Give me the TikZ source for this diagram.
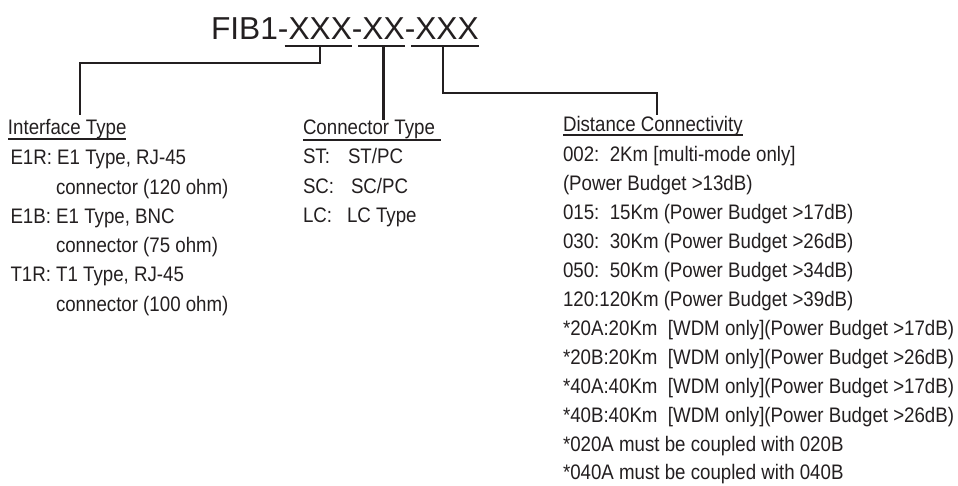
\documentclass[tikz,border=0pt]{standalone}
\usepackage{fontspec}
\setmainfont{Liberation Sans}[FakeStretch=0.89]
\newfontfamily\titlefont{Liberation Sans}
\usetikzlibrary{calc}
\definecolor{ink}{RGB}{35,31,32}
\begin{document}
\begin{tikzpicture}[x=1pt,y=-1pt,
  txt/.style={anchor=base west,inner sep=0pt,outer sep=0pt,font=\fontsize{21}{25}\selectfont,text=ink},
  ttl/.style={anchor=base west,inner sep=0pt,outer sep=0pt,font=\titlefont\fontsize{31.7}{36}\selectfont,text=ink},
  wire/.style={draw=ink,line width=2.4pt},
  uline/.style={draw=ink,line width=2pt}]
\useasboundingbox[fill=white] (0,0) rectangle (958,486);
% title
\node[ttl] (t0) at (211,40) {FIB1-};
\node[ttl] (t1) at (t0.base east) {XXX};
\node[ttl] (t2) at (t1.base east) {-};
\node[ttl] (t3) at (t2.base east) {XX};
\node[ttl] (t4) at (t3.base east) {-};
\node[ttl] (t5) at (t4.base east) {XXX};
\foreach \n in {t1,t3,t5}
  \draw[wire] ([shift={(-4pt,-6pt)}]\n.base west) -- ([shift={(0pt,-6pt)}]\n.base east);
% headings
\node[txt] (ih) at (8,135) {Interface Type};
\node[txt] (ch) at (303,135) {Connector Type};
\node[txt] (dh) at (563,132) {Distance Connectivity};
\draw[uline] ([yshift=-4pt]ih.base west) -- ([yshift=-4pt]ih.base east);
\draw[uline] ([yshift=-5pt]ch.base west) -- ([shift={(6pt,-5pt)}]ch.base east);
\draw[uline] ([yshift=-3pt]dh.base west) -- ([yshift=-3pt]dh.base east);
% connectors
\coordinate (k1) at ($(ih.north west)+(72pt,5pt)$);
\coordinate (k3) at ($(dh.north west)+(94pt,2pt)$);
\draw[wire] ([yshift=-6pt]t1.base) -- ++(0,17) -| (k1);
\draw[wire] ([yshift=-6pt]t3.base) -- (ch.north -| t3.base);
\draw[wire] ([shift={(-4pt,-6pt)}]t5.base) -- ++(0,47) -| (k3);
% interface type
\node[txt] (i1) at (10.5,165) {E1R: E1 Type, RJ-45};
\node[txt] (i2) at (56,194.2) {connector (120 ohm)};
\node[txt] (i3) at (10.5,223.4) {E1B: E1 Type, BNC};
\node[txt] (i4) at (56,252.6) {connector (75 ohm)};
\node[txt] (i5) at (10.5,281.8) {T1R: T1 Type, RJ-45};
\node[txt] (i6) at (56,311) {connector (100 ohm)};
% connector type
\node[txt] (c1k) at (303,164) {ST:};
\node[txt] (c1v) at (348,164) {ST/PC};
\node[txt] (c2k) at (303,193.5) {SC:};
\node[txt] (c2v) at (351,193.5) {SC/PC};
\node[txt] (c3k) at (303,223) {LC:};
\node[txt] (c3v) at (347,223) {LC Type};
% distance
\node[txt] (d0) at (563,162) {002:\ \ 2Km [multi-mode only]};
\node[txt] (d1) at (563,190.9) {(Power Budget >13dB)};
\node[txt] (d2) at (563,219.8) {015:\ \ 15Km (Power Budget >17dB)};
\node[txt] (d3) at (563,248.7) {030:\ \ 30Km (Power Budget >26dB)};
\node[txt] (d4) at (563,277.6) {050:\ \ 50Km (Power Budget >34dB)};
\node[txt] (d5) at (563,306.5) {120:120Km (Power Budget >39dB)};
\node[txt] (d6) at (563,335.4) {*20A:20Km\ \ [WDM only](Power Budget >17dB)};
\node[txt] (d7) at (563,364.3) {*20B:20Km\ \ [WDM only](Power Budget >26dB)};
\node[txt] (d8) at (563,393.2) {*40A:40Km\ \ [WDM only](Power Budget >17dB)};
\node[txt] (d9) at (563,422.1) {*40B:40Km\ \ [WDM only](Power Budget >26dB)};
\node[txt] (d10) at (563,451) {*020A must be coupled with 020B};
\node[txt] (d11) at (563,479.9) {*040A must be coupled with 040B};
\end{tikzpicture}
\end{document}
